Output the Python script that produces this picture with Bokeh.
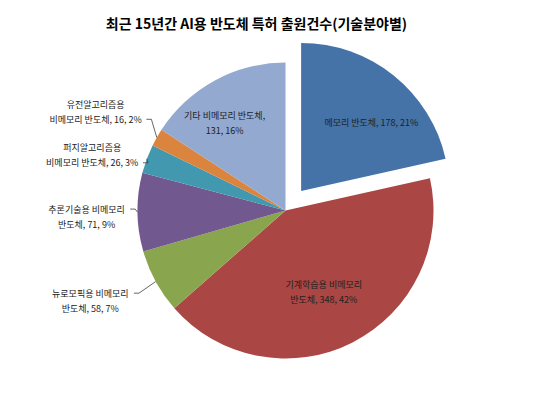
import math

from bokeh.core.properties import value
from bokeh.embed import file_html
from bokeh.models import ColumnDataSource, Range1d
from bokeh.plotting import figure
from bokeh.resources import INLINE

# data
title = "최근 15년간 AI용 반도체 특허 출원건수(기술분야별)"
names = ["메모리 반도체",
         "기계학습용 비메모리 반도체",
         "뉴로모픽용 비메모리 반도체",
         "추론기술용 비메모리 반도체",
         "퍼지알고리즘용 비메모리 반도체",
         "유전알고리즘용 비메모리 반도체",
         "기타 비메모리 반도체"]
counts = [178, 348, 58, 71, 26, 16, 131]
shares = [21, 42, 7, 9, 3, 2, 16]
colors = ["#4572A7", "#AA4643", "#89A54E", "#71588F",
          "#4198AF", "#DB843D", "#93A9CF"]

# label layout: words on first line (0 = single line), radius, angle nudge,
# which line a leader attaches to (None = inside label, no leader)
split_at = [0, 2, 2, 2, 1, 1, 3]
lab_r = [123, 90, 215, 199, 201, 214, 107]
lab_da = [5.6, 1.8, 3.9, -1.1, -4.5, -2.1, -6.2]
leader_line = [None, None, 0, 0, 1, 1, None]

W, H = 524, 389
CX, CY = 285, 210          # pie centre, pixels from top-left of the figure
R = 148
EXPLODE = 25
FONT = "Noto Sans CJK KR"
FS = 9
LINE_GAP = 15


def text_width(s, size=FS):
    w = 0.0
    for ch in s:
        if '\uac00' <= ch <= '\ud7a3':
            w += 1.0
        elif ch == ' ':
            w += 0.25
        elif ch in ',.':
            w += 0.28
        elif ch == '%':
            w += 0.85
        else:
            w += 0.56
    return w * size


def polar(theta_deg, r):
    """clockwise-from-top angle -> data coords relative to pie centre"""
    t = math.radians(theta_deg)
    return r * math.sin(t), r * math.cos(t)


p = figure(width=W, height=H, output_backend="svg", toolbar_location=None,
           x_range=Range1d(-CX, W - CX), y_range=Range1d(CY - H, CY),
           min_border=0, outline_line_color=None,
           background_fill_color="white", border_fill_color="white")
p.axis.visible = False
p.grid.visible = False

total = float(sum(counts))
starts, ends, mids = [], [], []
acc = 0.0
for c in counts:
    a0 = acc / total * 360.0
    acc += c
    a1 = acc / total * 360.0
    starts.append(a0)
    ends.append(a1)
    mids.append((a0 + a1) / 2.0)

xs, ys = [], []
for i, m in enumerate(mids):
    if i == 0:
        dx, dy = polar(m, EXPLODE)
    else:
        dx, dy = 0.0, 0.0
    xs.append(dx)
    ys.append(dy)

src = ColumnDataSource(data=dict(
    x=xs, y=ys, color=colors,
    start=[math.radians(90 - a) for a in starts],
    end=[math.radians(90 - a) for a in ends]))
p.wedge(x='x', y='y', radius=R, start_angle='start', end_angle='end',
        direction="clock", fill_color='color', line_color=None, source=src)

# data labels (positioned relative to the main pie centre)
tx, ty, tt = [], [], []
lx, ly = [], []
for i, name in enumerate(names):
    full = "%s, %d, %d%%" % (name, counts[i], shares[i])
    words = full.split(" ")
    if split_at[i]:
        lines = [" ".join(words[:split_at[i]]), " ".join(words[split_at[i]:])]
    else:
        lines = [full]
    cx, cy = polar(mids[i] + lab_da[i], lab_r[i])
    n = len(lines)
    line_y = [cy + (n - 1) / 2.0 * LINE_GAP - k * LINE_GAP for k in range(n)]
    for k, s in enumerate(lines):
        tx.append(cx)
        ty.append(line_y[k])
        tt.append(s)
    if leader_line[i] is not None:
        k = leader_line[i]
        x0 = cx + text_width(lines[k]) / 2.0 + 2
        y0 = line_y[k]
        ex, ey = polar(mids[i], R)
        lx.append([x0, x0 + 5, ex])
        ly.append([y0, y0, ey])

p.multi_line(xs=lx, ys=ly, line_color="#404040", line_width=0.8)
p.text(x=tx, y=ty, text=tt, text_align="center", text_baseline="middle",
       text_font=value(FONT), text_font_size="%spx" % FS, text_color="#222222")

# chart title
p.text(x=[-29], y=[CY - 22], text=[title], text_align="center",
       text_baseline="middle", text_font=value(FONT), text_font_size="14px",
       text_font_style="bold", text_color="#000000")

open("out.html", "w").write(file_html(p, INLINE))
